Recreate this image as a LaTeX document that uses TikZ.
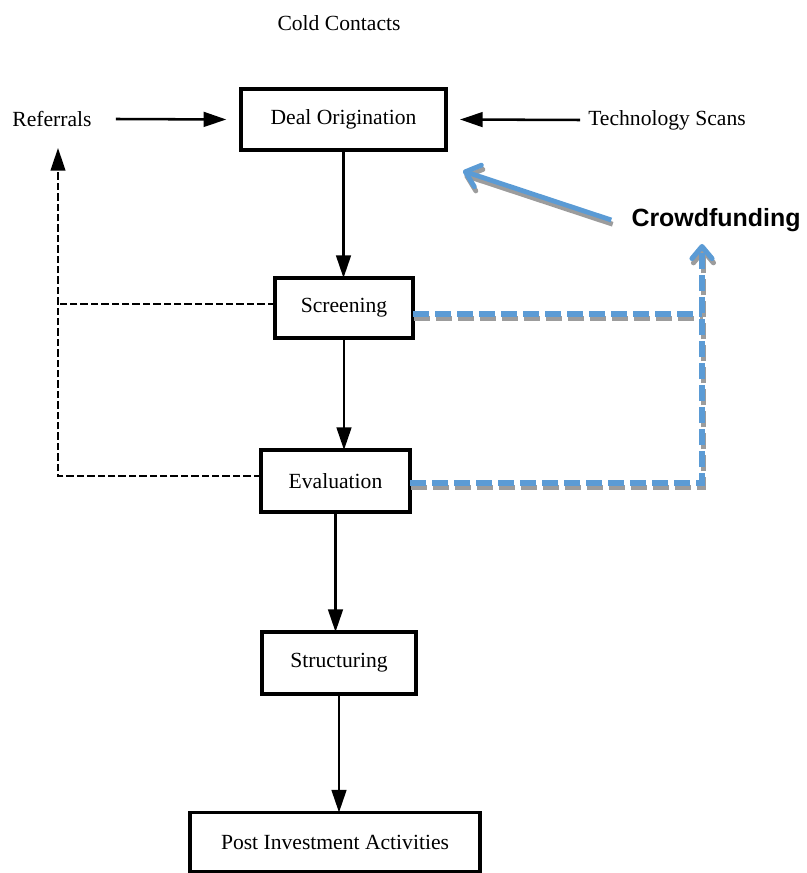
\documentclass[tikz,border=0pt]{standalone}
\usepackage{fontspec}
\setmainfont{Liberation Serif}
\newfontfamily\crowdfont{Liberation Sans}
\usetikzlibrary{arrows.meta}
\definecolor{cfblue}{HTML}{5B9BD5}
\definecolor{cfshadow}{HTML}{9C9C9C}
\begin{document}
\begin{tikzpicture}[x=0.75pt,y=-0.75pt,
  lbl/.style={font=\fontsize{16.2}{19}\selectfont, inner sep=0pt},
  stagebox/.style={draw, line width=2.3pt, inner sep=0pt, outer sep=0pt, font=\fontsize{16.2}{19}\selectfont},
  flow/.style={line width=1.9pt, -{Triangle[length=17pt,width=11pt]}},
  fb/.style={line width=1.5pt, dash pattern=on 5.5pt off 2.3pt},
  fbarrow/.style={fb, -{Triangle[length=17pt,width=11pt]}},
  cfline/.style={line width=3.8pt, dash pattern=on 12pt off 4.5pt},
  cfhead/.style={-{Straight Barb[length=9pt,width=15pt,round]}},
  cfarrow/.style={line width=3.6pt, -{Straight Barb[length=10pt,width=17pt,round]}},
]
\useasboundingbox (0,0) rectangle (806,873);

% labels
\node[lbl] (cold) at (339,23) {Cold Contacts};
\node[lbl] (ref) at (52,119) {Referrals};
\node[lbl] (tech) at (667,120) {Technology Scans};
\node[inner sep=0pt, font=\crowdfont\bfseries\fontsize{18.7}{22}\selectfont] (crowd) at (716,220) {Crowdfunding};

% stages
\node[stagebox, minimum width=153.75pt, minimum height=45.75pt] (deal) at (343.5,119.5) {Deal Origination};
\node[stagebox, minimum width=103.5pt, minimum height=45pt] (scr) at (344,308) {Screening};
\node[stagebox, minimum width=111.75pt, minimum height=46.5pt] (eval) at (335.5,481) {Evaluation};
\node[stagebox, minimum width=115.5pt, minimum height=46.5pt] (struc) at (339,663) {Structuring};
\node[stagebox, minimum width=217.5pt, minimum height=44.25pt] (post) at (335,842) {Post Investment Activities};

% free ends
\coordinate (rtip) at (58,148);
\coordinate (ctip) at (702,244);
\coordinate (dtip) at (463,171);
\coordinate (s1) at ([yshift=-4.5pt]scr.east);
\coordinate (e1) at ([yshift=-1.5pt]eval.east);

% solid flow arrows
\draw[flow] ([xshift=18pt]ref.east) -- ([xshift=-11pt]deal.west);
\draw[flow] ([xshift=-6pt]tech.west) -- ([xshift=10.5pt]deal.east);
\draw[flow] (deal.south) -- (deal.south |- scr.north);
\draw[flow] (scr.south) -- (scr.south |- eval.north);
\draw[flow] (eval.south) -- (eval.south |- struc.north);
\draw[flow] (struc.south) -- (struc.south |- post.north);

% feedback dashed lines
\draw[fbarrow] ([yshift=3.75pt]eval.west) -| (rtip);
\draw[fb] ([yshift=3pt]scr.west) -- ([yshift=3pt]scr.west -| rtip);

% crowdfunding lines: shadow then colour
\begin{scope}[transform canvas={shift={(1.1pt,-3.2pt)}}]
  \draw[cfline, cfshadow] (s1) -- (s1 -| ctip);
  \draw[cfline, cfhead, cfshadow] (e1) -| (ctip);
  \draw[cfarrow, cfshadow] ([xshift=-15pt]crowd.west) -- (dtip);
\end{scope}
\draw[cfline, cfblue] (s1) -- (s1 -| ctip);
\draw[cfline, cfhead, cfblue] (e1) -| (ctip);
\draw[cfarrow, cfblue] ([xshift=-15pt]crowd.west) -- (dtip);
\end{tikzpicture}
\end{document}
